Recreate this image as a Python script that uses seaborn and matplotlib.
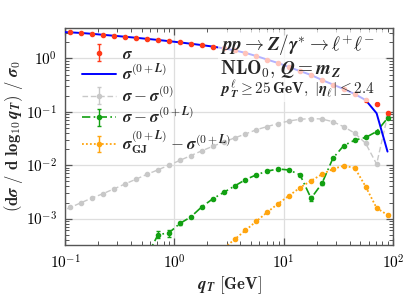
import numpy as np
import pandas as pd
import matplotlib
matplotlib.use("Agg")
import matplotlib.pyplot as plt
import seaborn as sns
from matplotlib.ticker import LogLocator, FuncFormatter, NullFormatter
from matplotlib.patches import Rectangle

# ---------------- data ----------------
qT = [0.0891, 0.112, 0.141, 0.178, 0.224, 0.282, 0.355, 0.447, 0.562, 0.708,
      0.891, 1.12, 1.41, 1.78, 2.24, 2.82, 3.55, 4.47, 5.62, 7.08,
      8.91, 11.2, 14.1, 17.8, 22.4, 28.2, 35.5, 44.7, 56.2, 70.8, 89.1]

sigma = [3.15, 3.08, 3.00, 2.89, 2.77, 2.66, 2.55, 2.44, 2.33, 2.22,
         2.11, 2.00, 1.89, 1.78, 1.67, 1.55, 1.42, 1.27, 1.11, 0.95,
         0.82, 0.69, 0.58, 0.49, 0.395, 0.325, 0.267, 0.215, 0.166, 0.140, 0.094]

sigma_0L = [3.15, 3.08, 3.00, 2.89, 2.77, 2.66, 2.55, 2.44, 2.33, 2.22,
            2.11, 2.00, 1.89, 1.78, 1.67, 1.55, 1.42, 1.27, 1.11, 0.95,
            0.82, 0.69, 0.58, 0.49, 0.395, 0.325, 0.267, 0.215, 0.166, 0.094, 0.018]

diff_0 = [1.32e-3, 1.62e-3, 2.0e-3, 2.45e-3, 2.95e-3, 3.63e-3, 4.47e-3, 5.5e-3, 6.76e-3, 8.2e-3,
          1.0e-2, 1.23e-2, 1.51e-2, 1.86e-2, 2.26e-2, 2.72e-2, 3.24e-2, 3.85e-2, 4.62e-2, 5.31e-2,
          6.03e-2, 6.76e-2, 7.24e-2, 7.5e-2, 7.33e-2, 6.53e-2, 5.25e-2, 3.98e-2, 2.57e-2, 1.05e-2, 8.3e-2]

qT_diff_0L = qT[8:]
diff_0L = [2.0e-4, 5.0e-4, 5.4e-4, 8.1e-4, 1.07e-3, 1.66e-3, 2.34e-3, 3.09e-3, 4.07e-3, 5.37e-3,
           6.61e-3, 7.76e-3, 8.51e-3, 8.13e-3, 6.61e-3, 2.4e-3, 4.57e-3, 1.35e-2, 2.34e-2, 2.95e-2,
           3.31e-2, 4.27e-2, 7.59e-2]
diff_0L_relerr = [0.15, 0.15, 0.15, 0.08, 0.05, 0.04, 0.04, 0.04, 0.03, 0.03,
                  0.03, 0.03, 0.03, 0.04, 0.04, 0.10, 0.06, 0.04, 0.03, 0.03,
                  0.03, 0.03, 0.03]

qT_gj = qT[14:]
diff_gj = [1.78e-4, 2.75e-4, 4.07e-4, 6.03e-4, 8.91e-4, 1.32e-3, 1.91e-3, 2.69e-3, 3.80e-3, 5.13e-3,
           6.76e-3, 8.51e-3, 9.77e-3, 8.91e-3, 3.98e-3, 1.58e-3, 1.17e-3]

SUP0L = r'^{\mathbf{(0+}\boldsymbol{L}\mathbf{)}}'
labels = [r'$\boldsymbol{\sigma}$',
          r'$\boldsymbol{\sigma}' + SUP0L + '$',
          r'$\boldsymbol{\sigma}-\boldsymbol{\sigma}^{\mathbf{(0)}}$',
          r'$\boldsymbol{\sigma}-\boldsymbol{\sigma}' + SUP0L + '$',
          r'$\boldsymbol{\sigma}' + SUP0L + r'_{\mathbf{GJ}}-\boldsymbol{\sigma}' + SUP0L + '$']

# ---------------- style ----------------
sns.set_theme(style="ticks")
plt.rcParams['mathtext.fontset'] = 'cm'
plt.rcParams['font.family'] = ['DejaVu Serif']

RED = '#ff3a1a'
BLUE = '#0000ff'
GRAY = '#c8c8c8'
GREEN = '#12a012'
ORANGE = '#ffa50f'

fig = plt.figure(figsize=(4.07, 3.0), dpi=100)
ax = fig.add_axes([0.16, 0.1833, 0.8056, 0.725])

# blue line (seaborn)
df_blue = pd.DataFrame({'qT': qT, 'val': sigma_0L})
sns.lineplot(data=df_blue, x='qT', y='val', ax=ax, color=BLUE, lw=1.4,
             label=labels[1], zorder=3, legend=False)

ms = 3.0
h_red = ax.errorbar(qT, sigma, yerr=np.array(sigma) * 0.01, fmt='o', color=RED,
                    ms=ms, elinewidth=1.0, capsize=1.5, zorder=4, label=labels[0])
h_gray = ax.errorbar(qT, diff_0, yerr=np.array(diff_0) * 0.02, fmt='o', ls=(0, (4, 2)),
                     color=GRAY, ms=ms, lw=1.0, elinewidth=1.0, capsize=1.5, zorder=2,
                     label=labels[2])
h_green = ax.errorbar(qT_diff_0L, diff_0L, yerr=np.array(diff_0L) * np.array(diff_0L_relerr),
                      fmt='o', ls=(0, (5, 2, 1, 2)), color=GREEN, ms=ms, lw=1.2,
                      elinewidth=1.0, capsize=1.5, zorder=2, label=labels[3])
h_or = ax.errorbar(qT_gj, diff_gj, yerr=np.array(diff_gj) * 0.03, fmt='o', ls=(0, (1, 1.2)),
                   color=ORANGE, ms=ms, lw=1.3, elinewidth=1.0, capsize=1.5, zorder=2,
                   label=labels[4])

ax.set_xscale('log')
ax.set_yscale('log')
ax.set_xlim(0.1, 100)
ax.set_ylim(3.2e-4, 3.8)

ax.xaxis.set_major_locator(LogLocator(base=10, numticks=10))
ax.yaxis.set_major_locator(LogLocator(base=10, numticks=10))
ax.xaxis.set_minor_locator(LogLocator(base=10, subs=np.arange(2, 10), numticks=20))
ax.yaxis.set_minor_locator(LogLocator(base=10, subs=np.arange(2, 10), numticks=20))
fmt = FuncFormatter(lambda v, p: r'$\mathbf{10}^{\mathbf{%d}}$' % int(round(np.log10(v))))
ax.xaxis.set_major_formatter(fmt)
ax.yaxis.set_major_formatter(fmt)
ax.xaxis.set_minor_formatter(NullFormatter())
ax.yaxis.set_minor_formatter(NullFormatter())

ax.grid(True, which='major', color='#dedede', lw=0.9)
ax.set_axisbelow(True)
ax.tick_params(which='both', direction='in', top=True, right=True, colors='#555555',
               labelcolor='black', labelsize=11)
ax.tick_params(which='major', length=5, width=0.9, pad=6)
ax.tick_params(which='minor', length=2.8, width=0.7)
for s in ax.spines.values():
    s.set_color('#555555')
    s.set_linewidth(1.0)

ax.set_xlabel(r'$\boldsymbol{q}_{\boldsymbol{T}}\ \mathbf{[GeV]}$', fontsize=12, labelpad=2)
ax.set_ylabel(r'$\mathbf{(d}\boldsymbol{\sigma}\ \mathbf{/\ d\ log}_{\mathbf{10}}\,'
              r'\boldsymbol{q}_{\boldsymbol{T}}\mathbf{)}\ \mathbf{/}\ \boldsymbol{\sigma}_{\mathbf{0}}$',
              fontsize=12)
ax.yaxis.set_label_coords(-0.122, 0.5)

handles = [h_red, ax.lines[0], h_gray, h_green, h_or]
leg = ax.legend(handles, labels, loc='upper left', bbox_to_anchor=(0.053, 0.917),
                frameon=False, fontsize=12, handlelength=2.0, handletextpad=0.4,
                labelspacing=0.08, borderaxespad=0.0, borderpad=0.0)

# annotation text with semi transparent box
ax.text(0.473, 0.892, r'$\boldsymbol{pp}\rightarrow\boldsymbol{Z}/\boldsymbol{\gamma}^{*}\rightarrow'
        r'\boldsymbol{\ell}^{+}\boldsymbol{\ell}^{-}$',
        transform=ax.transAxes, ha='left', va='baseline', fontsize=13.8, zorder=6)
ax.text(0.473, 0.785, r'$\mathbf{NLO}_{\mathbf{0}}\mathbf{,}\ \boldsymbol{Q}=\boldsymbol{m}_{\boldsymbol{Z}}$',
        transform=ax.transAxes, ha='left', va='baseline', fontsize=13.8, zorder=6)
ax.text(0.473, 0.694, r'$\boldsymbol{p}_{\boldsymbol{T}}^{\boldsymbol{\ell}}\geq\mathbf{25\,GeV,}\ '
        r'|\boldsymbol{\eta}_{\boldsymbol{\ell}}|\leq\mathbf{2.4}$',
        transform=ax.transAxes, ha='left', va='baseline', fontsize=11, zorder=6)
ax.add_patch(Rectangle((0.466, 0.657), 0.51, 0.33, transform=ax.transAxes,
                       facecolor='white', alpha=0.7, edgecolor='none', zorder=5))

fig.savefig('out.png', dpi=100)
